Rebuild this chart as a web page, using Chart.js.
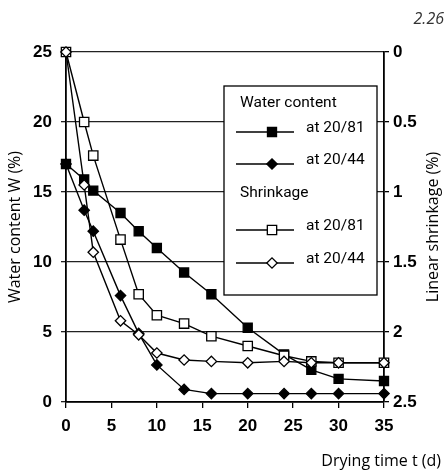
<!DOCTYPE html>
<html>
<head>
<meta charset="utf-8">
<script src="https://cdn.jsdelivr.net/npm/chart.js@4.4.1/dist/chart.umd.min.js"></script>
<style>
  html, body { margin: 0; padding: 0; background: #fff; }
  #wrap { position: relative; width: 446px; height: 473px; }
</style>
</head>
<body>
<div id="wrap"><canvas id="dryChart"></canvas></div>
<script>
// === Số liệu
const days = [0, 2, 3, 6, 8, 10, 13, 16, 20, 24, 27, 30, 35];
const water2081 = [17, 15.9, 15.1, 13.5, 12.2, 11.0, 9.25, 7.7, 5.3, 3.4, 2.3, 1.65, 1.5];
const water2044 = [17, 13.7, 12.2, 7.6, 4.9, 2.65, 0.9, 0.6, 0.6, 0.6, 0.6, 0.6, 0.6];
const shrink2081 = [0, 0.5, 0.74, 1.34, 1.73, 1.88, 1.94, 2.03, 2.1, 2.17, 2.21, 2.22, 2.22];
const shrink2044 = [0, 0.95, 1.43, 1.92, 2.02, 2.15, 2.2, 2.21, 2.22, 2.21, 2.22, 2.22, 2.22];

const dayTicks = [0, 5, 10, 15, 20, 25, 30, 35];
const waterTicks = [0, 5, 10, 15, 20, 25];
const shrinkTicks = [0, 0.5, 1, 1.5, 2, 2.5];

const toPoints = (arr) => days.map((d, i) => ({ x: d, y: arr[i] }));

const tickFont = { family: "'Liberation Sans', Arial, sans-serif", size: 17, weight: "bold" };
const titleFont = { family: "'Open Sans', sans-serif", size: 16 };
const legendFont = "15.5px 'Roboto', sans-serif";

// === Chú giải vẽ tay trong khung + các tiêu đề phụ
const boxLegend = {
  id: "boxLegend",
  beforeDatasetsDraw(chart) {
    const ctx = chart.ctx;
    const a = chart.chartArea;
    const left = a.left + 158;
    const top = a.top + 34;
    ctx.save();
    ctx.fillStyle = "#fff";
    ctx.strokeStyle = "#000";
    ctx.lineWidth = 1.3;
    ctx.fillRect(left, top, 153, 209);
    ctx.strokeRect(left, top, 153, 209);

    ctx.fillStyle = "#000";
    ctx.font = legendFont;
    ctx.textBaseline = "middle";
    ctx.fillText("Water content", left + 16, top + 17);
    ctx.fillText("Shrinkage", left + 16, top + 107);

    const rows = [
      { ds: 0, y: top + 42, label: "at 20/81" },
      { ds: 1, y: top + 74, label: "at 20/44" },
      { ds: 2, y: top + 140, label: "at 20/81" },
      { ds: 3, y: top + 173, label: "at 20/44" },
    ];
    rows.forEach((r) => {
      const d = chart.data.datasets[r.ds];
      const my = r.y + 4;
      ctx.strokeStyle = "#000";
      ctx.lineWidth = 1.4;
      ctx.beginPath();
      ctx.moveTo(left + 12, my);
      ctx.lineTo(left + 70, my);
      ctx.stroke();
      ctx.fillStyle = d.backgroundColor;
      ctx.strokeStyle = "#000";
      ctx.lineWidth = 1.3;
      Chart.helpers.drawPoint(ctx, {
        pointStyle: d.pointStyle,
        radius: d.pointRadius,
        borderWidth: 1.3,
        rotation: 0,
      }, left + 48, my);
      ctx.fillStyle = "#000";
      ctx.fillText(r.label, left + 82, r.y);
    });
    ctx.restore();
  },
  afterDraw(chart) {
    const ctx = chart.ctx;
    const a = chart.chartArea;
    ctx.save();
    ctx.fillStyle = "#000";
    ctx.font = "16px 'Open Sans', sans-serif";
    ctx.textAlign = "right";
    ctx.textBaseline = "middle";
    ctx.fillText("Drying time t (d)", 441, 461);

    ctx.fillStyle = "#333";
    ctx.font = "italic 16px 'Open Sans', sans-serif";
    ctx.fillText("2.26", 444, 19);

    // tiêu đề trục phải, đọc từ dưới lên
    ctx.fillStyle = "#000";
    ctx.font = "16px 'Open Sans', sans-serif";
    ctx.textAlign = "center";
    ctx.translate(433, (a.top + a.bottom) / 2);
    ctx.rotate(-Math.PI / 2);
    ctx.fillText("Linear shrinkage (%)", 0, 0);
    ctx.restore();
  },
};

// === Biểu đồ
const ctx = document.getElementById("dryChart").getContext("2d");
new Chart(ctx, {
  type: "line",
  data: {
    datasets: [
      {
        label: "Water content at 20/81",
        data: toPoints(water2081),
        yAxisID: "y",
        pointStyle: "rect",
        pointRadius: 6.4,
        backgroundColor: "#000",
        order: 3,
      },
      {
        label: "Water content at 20/44",
        data: toPoints(water2044),
        yAxisID: "y",
        pointStyle: "rectRot",
        pointRadius: 5.2,
        backgroundColor: "#000",
        order: 2,
      },
      {
        label: "Shrinkage at 20/81",
        data: toPoints(shrink2081),
        yAxisID: "y2",
        pointStyle: "rect",
        pointRadius: 6.6,
        backgroundColor: "#fff",
        order: 1,
      },
      {
        label: "Shrinkage at 20/44",
        data: toPoints(shrink2044),
        yAxisID: "y2",
        pointStyle: "rectRot",
        pointRadius: 5.2,
        backgroundColor: "#fff",
        order: 0,
      },
    ].map((d) => ({
      ...d,
      borderColor: "#000",
      borderWidth: 1.4,
      pointBorderWidth: 1.3,
      tension: 0,
      clip: false,
    })),
  },
  options: {
    responsive: true,
    maintainAspectRatio: false,
    animation: false,
    layout: { padding: { top: 52, left: 0, right: 0, bottom: 0 } },
    plugins: { legend: { display: false }, tooltip: { enabled: false } },
    scales: {
      x: {
        type: "linear",
        min: 0,
        max: 35,
        afterBuildTicks: (s) => { s.ticks = dayTicks.map((v) => ({ value: v })); },
        afterFit: (s) => { s.height = 71; },
        grid: { drawOnChartArea: false, tickLength: 6, color: "#000", lineWidth: 1.3 },
        border: { color: "#000", width: 1.8 },
        ticks: { color: "#000", font: tickFont, padding: 8, maxRotation: 0, callback: (v) => String(v) },
      },
      y: {
        position: "left",
        min: 0,
        max: 25,
        afterBuildTicks: (s) => { s.ticks = waterTicks.map((v) => ({ value: v })); },
        afterFit: (s) => { s.width = 66; },
        grid: { color: "#222", lineWidth: 1.3, tickLength: 5 },
        border: { color: "#000", width: 1.8 },
        ticks: { color: "#000", font: tickFont, padding: 9, callback: (v) => String(v) },
        title: { display: true, text: "Water content W (%)", color: "#000", font: titleFont, padding: { top: 6, bottom: 0 } },
      },
      y2: {
        position: "right",
        min: 0,
        max: 2.5,
        reverse: true,
        afterBuildTicks: (s) => { s.ticks = shrinkTicks.map((v) => ({ value: v })); },
        afterFit: (s) => { s.width = 62; },
        grid: { drawOnChartArea: false, color: "#000", lineWidth: 1.3, tickLength: 5 },
        border: { color: "#000", width: 1.8 },
        ticks: { color: "#000", font: tickFont, padding: 4, callback: (v) => String(v) },
      },
    },
  },
  plugins: [boxLegend],
});
</script>
</body>
</html>
